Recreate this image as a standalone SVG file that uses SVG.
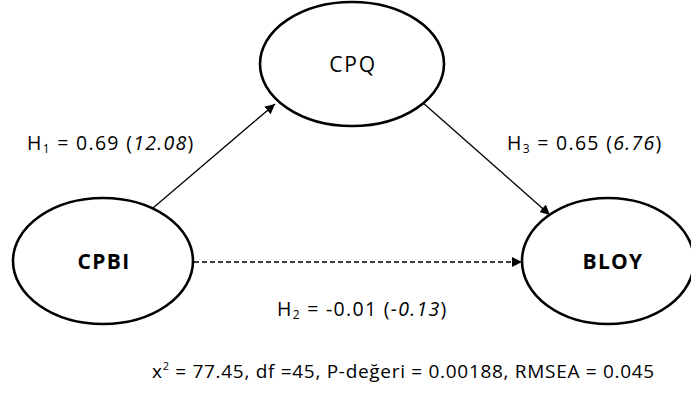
<svg xmlns="http://www.w3.org/2000/svg" width="691" height="398" viewBox="0 0 691 398">
<style>
.node{fill:#fff;stroke:#000;stroke-width:2.6}
.lbl{font-family:"Open Sans","Liberation Sans",sans-serif;font-size:21px;fill:#000;text-anchor:middle;letter-spacing:1.8px}
.b{font-weight:bold;letter-spacing:1.3px}
.t{font-family:"Open Sans","Liberation Sans",sans-serif;font-size:19.5px;fill:#000;letter-spacing:1.3px}
.f{font-size:19px;letter-spacing:0.7px}
.it{font-style:italic}
.edge{stroke:#000;stroke-width:1.3;fill:none}
</style>
<defs>
<marker id="ah" viewBox="0 0 10 10" refX="10" refY="5" markerWidth="10" markerHeight="10" markerUnits="userSpaceOnUse" orient="auto">
<path d="M0,0 L10,5 L0,10 z" fill="#000"/>
</marker>
</defs>
<g id="connectors">
<line class="edge" x1="153" y1="208" x2="275" y2="104" marker-end="url(#ah)"/>
<line class="edge" x1="422" y1="102" x2="550" y2="215" marker-end="url(#ah)"/>
<line class="edge" x1="194" y1="262" x2="522" y2="262" stroke-dasharray="5 3" marker-end="url(#ah)"/>
</g>
<g id="CPQ">
<ellipse class="node" cx="352" cy="64" rx="92" ry="62"/>
<text class="lbl" x="353" y="72">CPQ</text>
</g>
<g id="CPBI">
<ellipse class="node" cx="103" cy="261" rx="90" ry="63"/>
<text class="lbl b" x="104" y="269">CPBI</text>
</g>
<g id="BLOY">
<ellipse class="node" cx="608" cy="261" rx="86" ry="63"/>
<text class="lbl b" x="613" y="269">BLOY</text>
</g>
<g id="labels">
<text class="t" x="27" y="150">H<tspan font-size="12" dy="3">1</tspan><tspan dy="-3"> = 0.69 (</tspan><tspan class="it">12.08</tspan>)</text>
<text class="t" x="507" y="150">H<tspan font-size="12" dy="3">3</tspan><tspan dy="-3"> = 0.65 (</tspan><tspan class="it">6.76</tspan>)</text>
<text class="t" x="277" y="316">H<tspan font-size="12" dy="3">2</tspan><tspan dy="-3"> = -0.01 (</tspan><tspan class="it">-0.13</tspan>)</text>
<text class="t f" x="152" y="378">x<tspan font-size="11" dy="-8">2</tspan><tspan dy="8"> = 77.45, df =45, P-değeri = 0.00188, RMSEA = 0.045</tspan></text>
</g>
</svg>
